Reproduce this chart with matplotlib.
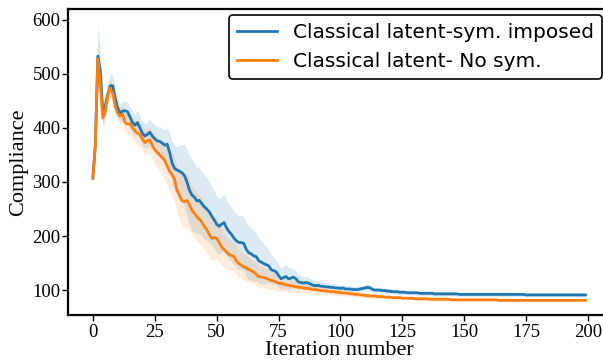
import numpy as np
import matplotlib
matplotlib.use("Agg")
import matplotlib.pyplot as plt

# Mean compliance per iteration (0..199)
sym_mean = [
    307, 370, 533, 505, 430, 440, 462, 478, 478, 455,
    437, 428, 431, 432, 430, 420, 410, 405, 410, 400,
    390, 385, 388, 392, 385, 380, 376, 375, 372, 368,
    370, 355, 335, 325, 322, 320, 317, 312, 300, 285,
    276, 272, 265, 266, 260, 254, 250, 245, 237, 230,
    222, 218, 222, 225, 215, 208, 203, 196, 191, 188,
    188, 186, 175, 169, 167, 163, 162, 154, 152, 149,
    147, 145, 138, 136, 134, 127, 121, 123, 125, 121,
    122, 124, 121, 115, 114, 113, 114, 113, 111, 109,
    108, 109, 107, 107, 106, 106, 105, 105, 104, 104,
    103, 104, 102, 102, 102, 101, 101, 101, 102, 103,
    104, 105, 104, 101, 100, 100, 100, 99, 99, 98,
    98, 97, 97, 97, 96, 96, 96, 95, 95, 95,
    95, 95, 94, 94, 94, 94, 94, 94, 93, 93,
    93, 93, 93, 93, 93, 93, 93, 93, 92, 92,
    92, 92, 92, 92, 92, 92, 92, 92, 92, 92,
    92, 92, 92, 92, 92, 92, 92, 92, 92, 92,
    92, 92, 92, 92, 92, 91, 91, 91, 91, 91,
    91, 91, 91, 91, 91, 91, 91, 91, 91, 91,
    91, 91, 91, 91, 91, 91, 91, 91, 91, 91,
]
nosym_mean = [
    307, 368, 528, 480, 418, 430, 460, 474, 465, 440,
    428, 422, 425, 410, 407, 408, 400, 395, 390, 388,
    380, 373, 376, 378, 368, 360, 355, 350, 345, 340,
    330, 320, 314, 305, 285, 275, 265, 264, 266, 258,
    248, 242, 236, 231, 226, 218, 212, 203, 196, 197,
    196, 188, 180, 175, 170, 166, 164, 162, 154, 149,
    146, 143, 141, 138, 136, 133, 129, 125, 124, 123,
    122, 120, 118, 117, 115, 113, 112, 111, 110, 109,
    108, 107, 106, 105, 105, 104, 103, 103, 102, 101,
    101, 100, 99, 99, 98, 98, 97, 97, 96, 96,
    95, 95, 94, 94, 93, 93, 92, 92, 91, 91,
    90, 90, 89, 89, 89, 88, 88, 88, 87, 87,
    87, 86, 86, 86, 86, 85, 85, 85, 85, 85,
    84, 84, 84, 84, 84, 84, 83, 83, 83, 83,
    83, 83, 83, 83, 83, 82, 82, 82, 82, 82,
    82, 82, 82, 82, 82, 82, 82, 82, 82, 82,
    82, 82, 82, 82, 81, 81, 81, 81, 81, 81,
    81, 81, 81, 81, 81, 81, 81, 81, 81, 81,
    81, 81, 81, 81, 81, 81, 81, 81, 81, 81,
    81, 81, 81, 81, 81, 81, 81, 81, 81, 81,
]

# Standard deviation per iteration (half-width of shaded band)
sym_std = [
    2, 20, 58, 40, 22, 20, 20, 22, 22, 20,
    18, 17, 17, 18, 18, 18, 20, 20, 22, 22,
    22, 22, 24, 25, 25, 25, 26, 27, 28, 28,
    30, 35, 40, 42, 44, 48, 52, 58, 62, 64,
    66, 64, 62, 60, 60, 60, 58, 56, 55, 54,
    53, 52, 52, 52, 51, 50, 50, 50, 50, 50,
    50, 50, 50, 50, 48, 47, 45, 42, 40, 38,
    34, 30, 27, 25, 22, 20, 20, 21, 22, 21,
    18, 16, 14, 13, 12, 12, 11, 11, 10, 10,
    9, 9, 8, 8, 8, 8, 7, 7, 7, 7,
    7, 7, 6, 6, 6, 6, 6, 6, 6, 6,
    7, 7, 6, 6, 5, 5, 5, 5, 5, 5,
    5, 5, 5, 5, 5, 5, 4, 4, 4, 4,
    4, 4, 4, 4, 4, 4, 4, 4, 4, 4,
    4, 4, 4, 4, 4, 4, 4, 4, 4, 4,
    4, 4, 4, 4, 4, 4, 4, 4, 4, 4,
    4, 4, 4, 4, 4, 4, 4, 4, 4, 4,
    4, 4, 4, 4, 4, 4, 4, 4, 4, 4,
    4, 4, 4, 4, 4, 4, 4, 4, 4, 4,
    4, 4, 4, 4, 4, 4, 4, 4, 4, 4,
]
nosym_std = [
    2, 15, 30, 25, 15, 15, 15, 15, 15, 15,
    15, 15, 16, 17, 18, 19, 20, 20, 21, 22,
    22, 23, 23, 24, 25, 26, 28, 30, 32, 34,
    36, 38, 40, 42, 44, 46, 48, 48, 48, 47,
    46, 46, 45, 45, 45, 44, 43, 42, 41, 40,
    38, 36, 34, 32, 30, 28, 27, 26, 26, 25,
    25, 24, 24, 23, 22, 22, 21, 20, 20, 19,
    18, 18, 17, 16, 15, 15, 14, 13, 13, 12,
    12, 11, 11, 10, 10, 10, 9, 9, 9, 8,
    8, 8, 7, 7, 7, 7, 6, 6, 6, 6,
    6, 5, 5, 5, 5, 5, 5, 4, 4, 4,
    4, 4, 4, 4, 4, 3, 3, 3, 3, 3,
    3, 3, 3, 3, 3, 3, 3, 3, 3, 3,
    3, 3, 3, 3, 3, 3, 3, 3, 3, 3,
    3, 3, 3, 3, 3, 3, 3, 3, 3, 3,
    3, 3, 3, 3, 3, 3, 3, 3, 3, 3,
    3, 3, 3, 3, 3, 3, 3, 3, 3, 3,
    3, 3, 3, 3, 3, 3, 3, 3, 3, 3,
    3, 3, 3, 3, 3, 3, 3, 3, 3, 3,
    3, 3, 3, 3, 3, 3, 3, 3, 3, 3,
]

labels = ["Classical latent-sym. imposed", "Classical latent- No sym."]
x_ticks = [0, 25, 50, 75, 100, 125, 150, 175, 200]
y_ticks = [100, 200, 300, 400, 500, 600]

blue = "#1f77b4"
orange = "#ff7f0e"

plt.rcParams["axes.linewidth"] = 1.6

fig = plt.figure(figsize=(6.03, 3.62), dpi=100)
ax = fig.add_axes([0.113, 0.130, 0.899, 0.845])

it = np.arange(len(sym_mean))
series = [
    (sym_mean, sym_std, blue),
    (nosym_mean, nosym_std, orange),
]
for (mean, std, color), label in zip(series, labels):
    mean = np.array(mean, dtype=float)
    std = np.array(std, dtype=float)
    ax.plot(it, mean, color=color, lw=2, label=label)
    ax.fill_between(it, mean - std, mean + std, color=color, alpha=0.15, lw=0)

ax.set_xlim(-10, 209)
ax.set_ylim(54, 620)
ax.set_xticks(x_ticks)
ax.set_yticks(y_ticks)

serif = "Liberation Serif"
for lab in ax.get_xticklabels() + ax.get_yticklabels():
    lab.set_fontfamily(serif)
    lab.set_fontsize(13.5)
ax.tick_params(length=4, width=1.0, color="black")
ax.tick_params(axis="y", pad=1.5)
ax.tick_params(axis="x", pad=2.5)
ax.set_xlabel("Iteration number", fontfamily=serif, fontsize=16, labelpad=0)
ax.set_ylabel("Compliance", fontfamily=serif, fontsize=16, labelpad=3)

leg = ax.legend(
    loc="upper right",
    bbox_to_anchor=(602 / 603, 1 - 15 / 362),
    bbox_transform=fig.transFigure,
    borderaxespad=0,
    fontsize=14.5,
    framealpha=1,
    edgecolor="black",
)
leg.get_frame().set_linewidth(1.2)

fig.savefig("out.png", dpi=100)
